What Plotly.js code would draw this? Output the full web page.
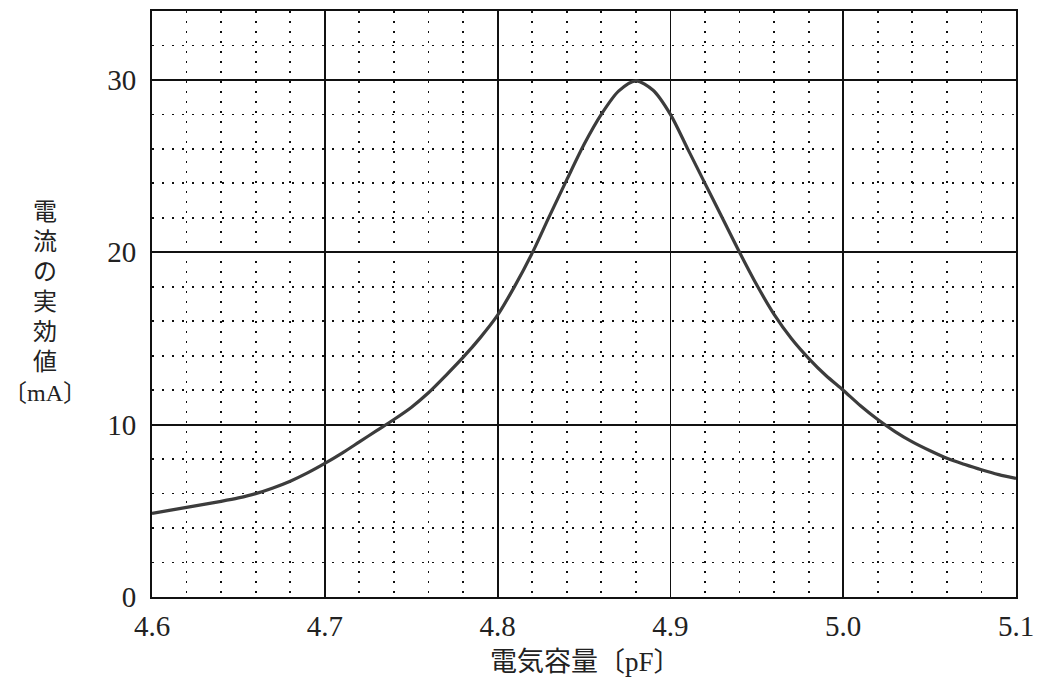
<!DOCTYPE html>
<html>
<head>
<meta charset="utf-8">
<script src="https://cdn.plot.ly/plotly-3.0.1.min.js"></script>
<style>
html,body{margin:0;padding:0;background:#fff;}
#chart{width:1041px;height:696px;}
</style>
</head>
<body>
<div id="chart"></div>
<script>
// Capacitance [pF]
var capacitance = [4.60, 4.61, 4.62, 4.63, 4.64, 4.65, 4.66, 4.67, 4.68, 4.69,
                   4.70, 4.71, 4.72, 4.73, 4.74, 4.75, 4.76, 4.77, 4.78, 4.79,
                   4.80, 4.81, 4.82, 4.83, 4.84, 4.85, 4.86, 4.87, 4.88, 4.89,
                   4.90, 4.91, 4.92, 4.93, 4.94, 4.95, 4.96, 4.97, 4.98, 4.99,
                   5.00, 5.01, 5.02, 5.03, 5.04, 5.05, 5.06, 5.07, 5.08, 5.09, 5.10];
// RMS current [mA]
var current = [4.85, 5.03, 5.2, 5.37, 5.55, 5.75, 6.0, 6.33, 6.72, 7.2,
               7.75, 8.35, 9.0, 9.65, 10.3, 11.0, 11.85, 12.85, 13.9, 15.05,
               16.35, 18.05, 19.95, 22.1, 24.2, 26.25, 28.0, 29.35, 29.95, 29.4,
               28.0, 26.0, 24.0, 22.0, 20.0, 18.1, 16.4, 15.0, 13.85, 12.85,
               12.0, 11.1, 10.3, 9.6, 9.0, 8.5, 8.05, 7.7, 7.38, 7.1, 6.88];

var xTickVals = [4.6, 4.7, 4.8, 4.9, 5.0, 5.1];
var xTickText = ['4.6', '4.7', '4.8', '4.9', '5.0', '5.1'];
var yTickVals = [0, 10, 20, 30];
var yTickText = ['0', '10', '20', '30'];

var yTitleChars = ['電', '流', 'の', '実', '効', '値', '〔mA〕'];
var xTitle = '電気容量〔pF〕';

var serif = '"Liberation Serif", serif';
var cjk = '"Liberation Serif", "Noto Sans CJK JP", serif';

var trace = {
  x: capacitance,
  y: current,
  type: 'scatter',
  mode: 'lines',
  line: {shape: 'spline', smoothing: 0.8, color: '#3c3c3c', width: 3.2},
  hoverinfo: 'skip'
};

var plotH = 586;
var annotations = [
  {
    xref: 'paper', yref: 'paper',
    x: (585 - 152) / 864, y: (597 - 662) / plotH, xanchor: 'center', yanchor: 'middle',
    text: xTitle, showarrow: false,
    font: {family: cjk, size: 27, color: '#222'}
  }
];
var yTitlePx = [212, 242, 272, 302, 332, 362, 393];
for (var i = 0; i < yTitleChars.length; i++) {
  annotations.push({
    xref: 'paper', yref: 'paper',
    x: (45 - 152) / 864, y: (597 - yTitlePx[i]) / plotH,
    xanchor: 'center', yanchor: 'middle',
    text: yTitleChars[i], showarrow: false,
    font: {family: cjk, size: 24, color: '#222'}
  });
}

var layout = {
  width: 1041,
  height: 696,
  margin: {l: 152, r: 25, t: 11, b: 99},
  paper_bgcolor: '#ffffff',
  plot_bgcolor: '#ffffff',
  showlegend: false,
  xaxis: {
    range: [4.6, 5.1],
    tickmode: 'array',
    tickvals: xTickVals,
    ticktext: xTickText,
    ticks: '',
    showgrid: true,
    gridcolor: '#111111',
    gridwidth: 1.8,
    zeroline: false,
    showline: true,
    linecolor: '#111111',
    linewidth: 2,
    mirror: true,
    ticklabelstandoff: 2,
    tickfont: {family: serif, size: 29, color: '#222'},
    minor: {dtick: 0.02, tick0: 4.6, showgrid: true, gridcolor: '#111111', gridwidth: 1.8, griddash: '2px,8px', ticks: ''}
  },
  yaxis: {
    range: [0, 34],
    tickmode: 'array',
    tickvals: yTickVals,
    ticktext: yTickText,
    ticks: '',
    showgrid: true,
    gridcolor: '#111111',
    gridwidth: 1.8,
    zeroline: false,
    showline: true,
    linecolor: '#111111',
    linewidth: 2,
    mirror: true,
    ticklabelstandoff: 8,
    tickfont: {family: serif, size: 29, color: '#222'},
    minor: {dtick: 2, tick0: 0, showgrid: true, gridcolor: '#111111', gridwidth: 1.8, griddash: '2px,8px', ticks: ''}
  },
  annotations: annotations
};

Plotly.newPlot('chart', [trace], layout, {staticPlot: true, displayModeBar: false});
</script>
</body>
</html>
